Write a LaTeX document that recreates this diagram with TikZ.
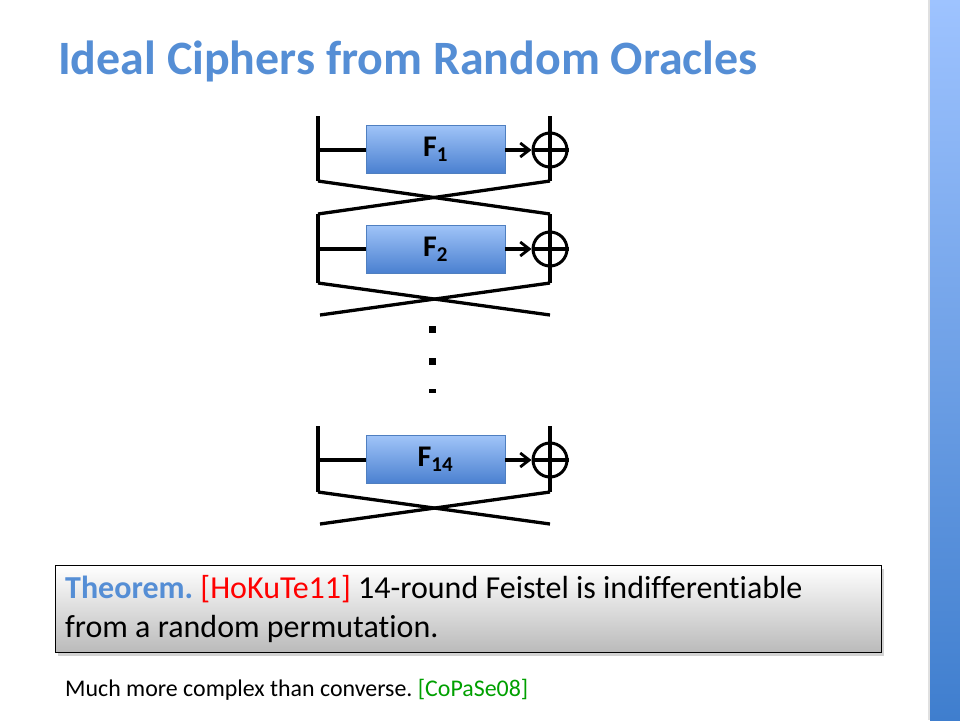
\documentclass[tikz,border=0pt]{standalone}
\usepackage{fontspec}
\setmainfont{Carlito}[Ligatures={NoCommon,NoContextual}]
\frenchspacing
\usetikzlibrary{arrows.meta,shadows}
\definecolor{titleblue}{HTML}{558ED5}
\definecolor{boxtop}{HTML}{A0C4F8}
\definecolor{boxbot}{HTML}{4A80D0}
\definecolor{boxedge}{HTML}{4F7FC0}
\definecolor{bartop}{HTML}{9EC3FF}
\definecolor{barbot}{HTML}{3F7ECE}
\definecolor{refred}{HTML}{FF0000}
\definecolor{refgreen}{HTML}{00A000}
\tikzset{
  wire/.style={line width=3.3pt,black},
  fbox/.style={draw=boxedge,line width=0.6pt,top color=boxtop,bottom color=boxbot,
    minimum width=139pt,minimum height=48pt,inner sep=0pt,
    font=\fontsize{30}{34}\selectfont\bfseries},
  xorc/.style={circle,draw=black,line width=3pt,minimum size=34pt,inner sep=0pt},
  arr/.style={wire,-{Straight Barb[length=9pt,width=14pt,line width=2.8pt]}},
  dotm/.style={fill=black,inner sep=0pt,minimum width=7pt},
}
\begin{document}
\begin{tikzpicture}[x=1pt,y=-1pt]
\useasboundingbox (0,0) rectangle (960,720);
\fill[white] (0,0) rectangle (960,720);
% side bar
\shade[top color=bartop,bottom color=barbot] (930,0) rectangle (960,720);
\fill[black!12] (928,0) rectangle (930,720);
% title
\node[anchor=base west,text=titleblue,font=\fontsize{47.9}{56}\selectfont\bfseries,inner sep=0pt] (title) at (58,74) {Ideal Ciphers from Random Oracles};

% ---- round 1
\coordinate (l1t) at (318,116); \coordinate (l1b) at (318,181);
\coordinate (r1t) at (550,116); \coordinate (r1b) at (550,181);
\coordinate (l1m) at (318,150);
\node[fbox] (F1) at (435.5,149) {F\textsubscript{1}};
\node[xorc] (X1) at (550,150) {};
% ---- round 2
\coordinate (l2t) at (318,214); \coordinate (l2b) at (318,283);
\coordinate (r2t) at (550,214); \coordinate (r2b) at (550,283);
\coordinate (l2m) at (318,249);
\coordinate (l2e) at (320,315); \coordinate (r2e) at (550,315);
\node[fbox] (F2) at (435.5,249) {F\textsubscript{2}};
\node[xorc] (X2) at (550,249) {};
% ---- round 14
\coordinate (l3t) at (318,426); \coordinate (l3b) at (318,492);
\coordinate (r3t) at (550,426); \coordinate (r3b) at (550,492);
\coordinate (l3m) at (318,460);
\coordinate (l3e) at (320,524); \coordinate (r3e) at (550,524);
\node[fbox] (F3) at (435.5,459.5) {F\textsubscript{14}};
\node[xorc] (X3) at (550,460) {};

% wires round 1
\draw[wire] (l1t) -- (l1b);
\draw[wire] (r1t) -- (r1b);
\draw[wire] (l1m) -- (l1m -| F1.west);
\draw[arr] (X1 -| F1.east) -- (X1.west);
\draw[wire] (l1b) -- (r2t);
\draw[wire] (r1b) -- (l2t);
% wires round 2
\draw[wire] (l2t) -- (l2b);
\draw[wire] (r2t) -- (r2b);
\draw[wire] (l2m) -- (l2m -| F2.west);
\draw[arr] (X2 -| F2.east) -- (X2.west);
\draw[wire] (l2b) -- (r2e);
\draw[wire] (r2b) -- (l2e);
% wires round 14
\draw[wire] (l3t) -- (l3b);
\draw[wire] (r3t) -- (r3b);
\draw[wire] (l3m) -- (l3m -| F3.west);
\draw[arr] (X3 -| F3.east) -- (X3.west);
\draw[wire] (l3b) -- (r3e);
\draw[wire] (r3b) -- (l3e);
% xor crosses
\foreach \n in {X1,X2,X3}{
  \draw[wire] (\n.west) -- (\n.east);
}

% dots
\node[dotm,minimum height=7pt] (d1) at (432,329) {};
\node[dotm,minimum height=7pt] (d2) at (432,361) {};
\node[dotm,minimum height=4pt] (d3) at (432,391) {};

% theorem box
\node[draw=black,line width=0.8pt,top color=white,bottom color=black!27,
  drop shadow={shadow xshift=3pt,shadow yshift=-4pt,opacity=0.35},
  minimum width=826pt,minimum height=87pt,anchor=north west,inner sep=0pt] (thm) at (55,565) {};
\node[anchor=base west,inner sep=0pt,font=\fontsize{32}{38}\selectfont] (thm1) at (65,598)
  {\textcolor{titleblue}{\bfseries Theorem.} \textcolor{refred}{[HoKuTe11]} 14-round Feistel is indifferentiable};
\node[anchor=base west,inner sep=0pt,font=\fontsize{32}{38}\selectfont] (thm2) at (65,637)
  {from a random permutation.};
% footer
\node[anchor=base west,inner sep=0pt,font=\fontsize{23.9}{28}\selectfont] (foot) at (65,696)
  {Much more complex than converse. \textcolor{refgreen}{[CoPaSe08]}};
\end{tikzpicture}
\end{document}
